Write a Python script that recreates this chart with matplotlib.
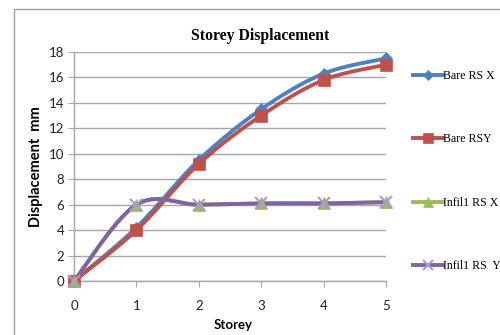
import numpy as np
import matplotlib
matplotlib.use("Agg")
import matplotlib.pyplot as plt
from matplotlib.patches import Rectangle

storey = [0, 1, 2, 3, 4, 5]
bare_rs_x = [0, 4.2, 9.5, 13.5, 16.3, 17.5]
bare_rs_y = [0, 4.0, 9.2, 13.0, 15.8, 17.0]
infill_rs_x = [0, 6.0, 6.0, 6.1, 6.1, 6.2]
infill_rs_y = [0, 6.0, 6.0, 6.1, 6.1, 6.2]
labels = ["Bare RS X", "Bare RSY", "Infil1 RS X", "Infil1 RS  Y"]
colors = ["#4F81BD", "#C0504D", "#9BBB59", "#8064A2"]
marker_colors = ["#4F81BD", "#C0504D", "#9BBB59", "#A99BD0"]
markers = ["D", "s", "^", "x"]
yticks = list(range(0, 19, 2))


def smooth(xs, ys, n=30):
    """Excel-like smoothed line (Catmull-Rom style Bezier) through the points."""
    xs = np.asarray(xs, float)
    ys = np.asarray(ys, float)
    px, py = [], []
    m = len(xs)
    for i in range(m - 1):
        i0, i1, i2, i3 = max(i - 1, 0), i, i + 1, min(i + 2, m - 1)
        c1x = xs[i1] + (xs[i2] - xs[i0]) / 6
        c1y = ys[i1] + (ys[i2] - ys[i0]) / 6
        c2x = xs[i2] - (xs[i3] - xs[i1]) / 6
        c2y = ys[i2] - (ys[i3] - ys[i1]) / 6
        t = np.linspace(0, 1, n)
        bx = (1-t)**3*xs[i1] + 3*(1-t)**2*t*c1x + 3*(1-t)*t**2*c2x + t**3*xs[i2]
        by = (1-t)**3*ys[i1] + 3*(1-t)**2*t*c1y + 3*(1-t)*t**2*c2y + t**3*ys[i2]
        px.extend(bx)
        py.extend(by)
    return np.array(px), np.array(py)


fig = plt.figure(figsize=(5, 3.35), dpi=100)
fig.patches.append(Rectangle((14/500, -0.1), 1.2, 1 - 9/335 + 0.1, transform=fig.transFigure,
                             fill=False, edgecolor="#A0A0A0", linewidth=1))
ax = fig.add_axes([74/500, 1 - 281/335, (386-74)/500, (281-52)/335])

series = [bare_rs_x, bare_rs_y, infill_rs_x, infill_rs_y]
handles = []
for ys, lab, c, mc, mk in zip(series, labels, colors, marker_colors, markers):
    sx, sy = smooth(storey, ys)
    ax.plot(sx, sy, color=c, linewidth=2.8, zorder=3, solid_capstyle="round")
    ms = {"D": 6, "s": 8, "^": 8, "x": 8}[mk]
    ax.plot(storey, ys, linestyle="none", marker=mk, color=mc, markersize=ms,
            markeredgewidth=1.5 if mk == "x" else 0.5, zorder=4)
    h, = ax.plot([], [], color=c, linewidth=2.8, marker=mk, markersize=ms - 1,
                 markerfacecolor=mc, markeredgecolor=mc,
                 markeredgewidth=1.5 if mk == "x" else 0.5)
    handles.append(h)

ax.set_xlim(0, 5)
ax.set_ylim(0, 18)
ax.set_yticks(yticks)
ax.set_xticks(storey)
ax.yaxis.grid(True, color="#A6A6A6", linewidth=1)
ax.set_axisbelow(True)
for s in ["top", "right"]:
    ax.spines[s].set_visible(False)
for s in ["left", "bottom"]:
    ax.spines[s].set_color("#A6A6A6")
    ax.spines[s].set_linewidth(1)
ax.tick_params(axis="y", length=4, color="#A6A6A6", labelsize=9.5, pad=3)
ax.tick_params(axis="x", length=4, color="#A6A6A6", labelsize=9.5, pad=10)
for lab in ax.get_xticklabels() + ax.get_yticklabels():
    lab.set_fontfamily("Lato")
    lab.set_color("#222222")
for ln in ax.lines:
    ln.set_clip_on(False)

fig.text(260/500, 1 - 36/335, "Storey Displacement", ha="center", va="center",
         fontfamily="Liberation Serif", fontweight="bold", fontsize=11.3)
fig.text(36/500, 1 - 167/335, "Displacement  mm", rotation=90, ha="center", va="center",
         fontfamily="Lato", fontweight="bold", fontsize=10.5)
fig.text(233/500, 1 - 325/335, "Storey", ha="center", va="center",
         fontfamily="Lato", fontweight="bold", fontsize=9.5)

fig.legend(handles, labels, loc="center left", bbox_to_anchor=(408/500, 1 - 171/335),
           frameon=False, prop={"family": "Liberation Serif", "size": 8.6},
           handlelength=2.5, handletextpad=0.05, labelspacing=4.3, borderaxespad=0)

fig.savefig("out.png", dpi=100)
